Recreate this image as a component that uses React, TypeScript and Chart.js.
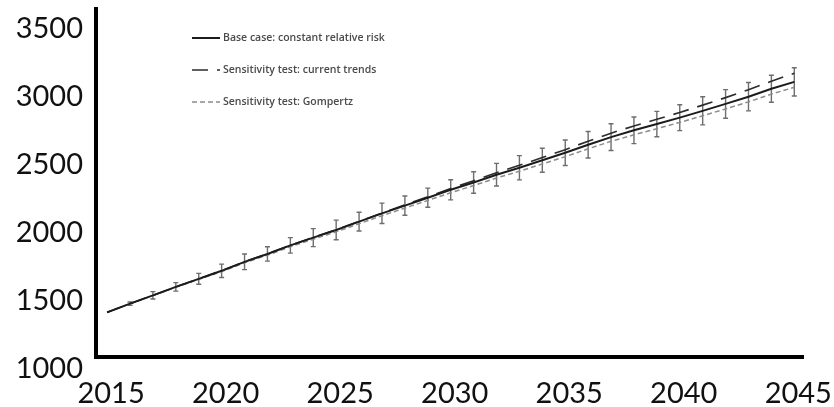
import React, { useEffect, useRef } from "react";
import { Chart, registerables } from "chart.js";

Chart.register(...registerables);

// Projection years
const YEARS = [
  2015, 2016, 2017, 2018, 2019, 2020, 2021, 2022, 2023, 2024, 2025,
  2026, 2027, 2028, 2029, 2030, 2031, 2032, 2033, 2034, 2035,
  2036, 2037, 2038, 2039, 2040, 2041, 2042, 2043, 2044, 2045,
];

// Base case: constant relative risk
const BASE_CASE = [
  1414, 1478, 1539, 1601, 1660, 1719, 1785, 1843, 1906, 1963, 2019,
  2080, 2141, 2198, 2256, 2314, 2368, 2425, 2476, 2531, 2586,
  2645, 2701, 2751, 2797, 2844, 2894, 2945, 2998, 3056, 3107,
];

// Sensitivity test: current trends
const CURRENT_TRENDS = [
  1414, 1478, 1539, 1601, 1661, 1720, 1786, 1844, 1907, 1965, 2021,
  2082, 2144, 2203, 2263, 2324, 2380, 2440, 2494, 2551, 2609,
  2671, 2730, 2783, 2832, 2882, 2936, 2991, 3049, 3112, 3170,
];

// Sensitivity test: Gompertz
const GOMPERTZ = [
  1414, 1477, 1537, 1598, 1656, 1713, 1778, 1834, 1896, 1951, 2005,
  2065, 2124, 2180, 2236, 2292, 2345, 2401, 2450, 2504, 2557,
  2615, 2670, 2718, 2763, 2809, 2858, 2908, 2960, 3017, 3067,
];

// Half-width of the uncertainty interval around the base case
const ERROR_MARGIN = [
  0, 12, 27, 31, 40, 49, 57, 53, 57, 66, 72,
  69, 75, 71, 70, 74, 79, 83, 89, 88, 94,
  97, 98, 98, 93, 95, 103, 105, 104, 99, 104,
];

const X_TICKS = [2015, 2020, 2025, 2030, 2035, 2040, 2045];
const Y_TICKS = [1000, 1500, 2000, 2500, 3000, 3500];

const SERIES_LABELS = [
  "Base case: constant relative risk",
  "Sensitivity test: current trends",
  "Sensitivity test: Gompertz",
];

const toPoints = (values: number[]) =>
  YEARS.map((year, i) => ({ x: year, y: values[i] }));

// Vertical whiskers with caps around the base-case line
const errorBarPlugin = {
  id: "errorBars",
  beforeDatasetsDraw(chart: any) {
    const { ctx, scales } = chart;
    const xs = scales.x;
    const ys = scales.y;
    ctx.save();
    ctx.strokeStyle = "#6e6e6e";
    ctx.lineWidth = 1.4;
    YEARS.forEach((year, i) => {
      const m = ERROR_MARGIN[i];
      if (!m) return;
      const x = xs.getPixelForValue(year);
      const yTop = ys.getPixelForValue(BASE_CASE[i] + m);
      const yBot = ys.getPixelForValue(BASE_CASE[i] - m);
      ctx.beginPath();
      ctx.moveTo(x, yTop);
      ctx.lineTo(x, yBot);
      ctx.moveTo(x - 2.5, yTop);
      ctx.lineTo(x + 2.5, yTop);
      ctx.moveTo(x - 2.5, yBot);
      ctx.lineTo(x + 2.5, yBot);
      ctx.stroke();
    });
    ctx.restore();
  },
};

// Small key in the upper-left of the plot
const keyPlugin = {
  id: "seriesKey",
  afterDraw(chart: any) {
    const { ctx } = chart;
    const left = 192;
    const sample = 28;
    const rows = [38, 70, 102];
    ctx.save();
    chart.data.datasets.forEach((ds: any, i: number) => {
      const y = rows[i];
      ctx.beginPath();
      ctx.setLineDash(ds.borderDash || []);
      ctx.strokeStyle = ds.borderColor;
      ctx.lineWidth = ds.borderWidth;
      ctx.moveTo(left, y);
      ctx.lineTo(left + sample, y);
      ctx.stroke();
      ctx.setLineDash([]);
      ctx.fillStyle = "#4a4a4a";
      ctx.font = '600 10.5px "Open Sans"';
      ctx.textBaseline = "middle";
      ctx.textAlign = "left";
      ctx.fillText(ds.label, left + sample + 3, y);
    });
    ctx.restore();
  },
};

export default function App() {
  const canvasRef = useRef<HTMLCanvasElement | null>(null);

  useEffect(() => {
    const canvas = canvasRef.current;
    if (!canvas) return;
    const tickFont = { family: "Lato", size: 29, weight: "normal" as const };
    const chart = new Chart(canvas, {
      type: "line",
      data: {
        datasets: [
          {
            label: SERIES_LABELS[0],
            data: toPoints(BASE_CASE),
            borderColor: "#1c1c1c",
            borderWidth: 2,
            pointRadius: 0,
            tension: 0,
          },
          {
            label: SERIES_LABELS[1],
            data: toPoints(CURRENT_TRENDS),
            borderColor: "#2c2c2c",
            borderWidth: 1.6,
            borderDash: [16, 9],
            pointRadius: 0,
            tension: 0,
          },
          {
            label: SERIES_LABELS[2],
            data: toPoints(GOMPERTZ),
            borderColor: "#8c8c8c",
            borderWidth: 1.5,
            borderDash: [5, 3],
            pointRadius: 0,
            tension: 0,
          },
        ],
      },
      options: {
        responsive: false,
        animation: false,
        layout: { padding: { top: 9, right: 31, left: 0, bottom: 0 } },
        plugins: {
          legend: { display: false },
          tooltip: { enabled: false },
        },
        scales: {
          x: {
            type: "linear",
            min: 2014.515,
            max: 2045.38,
            grid: { display: false, drawTicks: false },
            border: { display: true, color: "#000", width: 4 },
            afterBuildTicks: (scale: any) => {
              scale.ticks = X_TICKS.map((v) => ({ value: v }));
            },
            afterFit: (scale: any) => {
              scale.height = 50;
              scale.paddingLeft = 0;
              scale.paddingRight = 0;
            },
            ticks: {
              autoSkip: false,
              maxRotation: 0,
              padding: 19,
              labelOffset: 4,
              color: "#111",
              font: tickFont,
              callback: (v: any) => String(v),
            },
          },
          y: {
            type: "linear",
            min: 1086,
            max: 3642,
            grid: { display: false, drawTicks: false },
            border: { display: true, color: "#000", width: 4 },
            afterBuildTicks: (scale: any) => {
              scale.ticks = Y_TICKS.map((v) => ({ value: v }));
            },
            afterFit: (scale: any) => {
              scale.width = 96;
              scale.paddingTop = 0;
              scale.paddingBottom = 0;
            },
            ticks: {
              autoSkip: false,
              padding: 13,
              color: "#111",
              font: tickFont,
              callback: (v: any) => String(v),
            },
          },
        },
      },
      plugins: [errorBarPlugin, keyPlugin],
    });
    return () => chart.destroy();
  }, []);

  return (
    <div style={{ position: "fixed", left: 0, top: 0, width: 834, height: 407, background: "#fff" }}>
      <canvas ref={canvasRef} width={834} height={407} style={{ display: "block" }} />
    </div>
  );
}
